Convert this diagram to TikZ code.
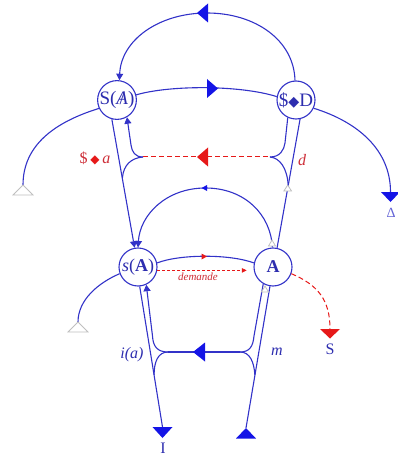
\documentclass[tikz,border=0pt]{standalone}
\usepackage{fontspec}
\usepackage{graphicx}
\setmainfont{Liberation Serif}
\newfontfamily\symf{DejaVu Sans}
\usetikzlibrary{arrows.meta}
\definecolor{lb}{RGB}{50,50,200}
\definecolor{fb}{RGB}{20,20,230}
\definecolor{tb}{RGB}{45,45,175}
\definecolor{rd}{RGB}{230,25,25}
\definecolor{tr}{RGB}{205,45,55}
\newcommand{\dmd}{{\symf\scalebox{0.75}{◆}}}
\newcommand{\barA}{\ooalign{\itshape A\cr\hidewidth\upshape/\hidewidth}}
\begin{document}
\begin{tikzpicture}[x=1pt,y=-1pt,
 nd/.style={circle,draw=lb,line width=1.1pt,fill=white,minimum size=38pt,inner sep=0pt,text=tb,font=\fontsize{18}{18}\selectfont},
 ln/.style={draw=lb,line width=1.1pt},
 tri/.style={fill=fb},
 rtri/.style={fill=rd},
 otri/.style={draw=gray!50,fill=white,line width=0.8pt},
 rdash/.style={draw=rd,line width=1pt,dash pattern=on 5pt off 3pt},
 tip/.style={-{Triangle[width=7pt,length=6.5pt]}},
 lab/.style={font=\fontsize{16}{16}\selectfont\itshape}]
\useasboundingbox (0,0) rectangle (398,457);
% nodes
\node[nd,font=\fontsize{19}{19}\selectfont] (SA) at (117,100) {S(\barA)};
\node[nd,font=\fontsize{19}{19}\selectfont] (SD) at (296,100) {\$\dmd D};
\node[nd] (sA) at (138,267) {\textit{s}(\textbf{A})};
\node[nd] (A) at (273,267) {\textbf{A}};
% coordinates
\coordinate (hL) at (168,352);
\coordinate (hR) at (240,352);
\coordinate (dL) at (143,157);
\coordinate (dR) at (270,157);
\coordinate (Iend) at (162.5,427);
\coordinate (Mend) at (246,428);
\coordinate (TL) at (23,185);
\coordinate (TD) at (390.5,192);
\coordinate (TsL) at (78,322);
\coordinate (TS) at (330,329);
% top arc
\draw[ln,tip] (SD.93) .. controls (294,40) and (255,13) .. (207,13) .. controls (159,13) and (121,40) .. (SA.83);
\fill[tri] (197,13) -- (208,3.5) -- (208,22.5) -- cycle;
% middle arc
\draw[ln] (SA.15) .. controls (170,85) and (240,85) .. (SD.170);
\fill[tri] (218,88.5) -- (207,79) -- (207,98) -- cycle;
% side arcs
\draw[ln] (SA.-155) .. controls (55,122) and (23,145) .. (TL);
\draw[otri] (TL) -- (33,195) -- (13,195) -- cycle;
\draw[ln] (SD.-25) .. controls (358,122) and (390.5,150) .. (TD);
\fill[tri] (381,192) -- (400,192) -- (390.5,202) -- cycle;
\node[text=lb!75,font=\fontsize{14}{14}\selectfont] (Dl) at (391,213) {Δ};
% straight lines upper
\draw[ln,tip] (SA.-105) -- (sA.100);
\draw[ln] (SD.-78) -- (A.78);
\draw[otri] (287.7,185) -- (291.5,191) -- (283.9,191) -- cycle;
% upper brackets
\draw[ln,tip] (dL) .. controls (135,157) and (132,152) .. (131,145) -- (SA.-60);
\draw[ln] (dL) .. controls (131,158) and (123.5,165) .. (122.4,178);
\draw[ln] (dR) .. controls (280,157) and (284,150) .. (285,143) -- (SD.-115);
\draw[ln] (dR) .. controls (280,158) and (287,168) .. (288.2,185);
\draw[rdash] (dL) -- (dR);
\fill[rtri] (197,157) -- (208,147.5) -- (208,166.5) -- cycle;
\node[text=tr,font=\fontsize{16}{16}\selectfont] (lSa) at (95,158) {\$\,{\color{rd}\dmd}\,\textit{a}};
\node[text=tr,lab] (ld) at (302,160) {d};
% inner arc
\draw[ln,tip] (A.92) .. controls (271,215) and (245,188) .. (205.5,188) .. controls (166,188) and (140,215) .. (sA.90);
\fill[tri] (201.5,188) -- (207,185) -- (207,191) -- cycle;
\draw[otri] (272,240) -- (275.5,246) -- (268.5,246) -- cycle;
% sA - A
\draw[ln] (sA.12) .. controls (180,254) and (230,254) .. (A.168);
\fill[rtri] (207,256.5) -- (201.5,253.5) -- (201.5,259.5) -- cycle;
\draw[draw=rd,line width=0.7pt,dash pattern=on 3pt off 2pt,-{Triangle[width=4.5pt,length=5pt]},shorten >=7pt] (sA.-10) -- (A.190);
\node[text=tr,font=\fontsize{11}{11}\selectfont\itshape] (ldem) at (198,277) {demande};
% left arcs lower
\draw[ln] (sA.-160) .. controls (98,283) and (78,300) .. (TsL);
\draw[otri] (TsL) -- (88,332) -- (68,332) -- cycle;
% red dashed to S
\draw[rdash] (A.-20) .. controls (318,285) and (330,300) .. (TS);
\fill[rtri] (320,329) -- (340,329) -- (330,338.5) -- cycle;
\node[text=tb,font=\fontsize{16}{16}\selectfont] (lS) at (330,349) {S};
% lower lines
\draw[ln] (sA.-85) -- (Iend);
\fill[tri] (152.5,427) -- (172.5,427) -- (162.5,438) -- cycle;
\node[text=tb,font=\fontsize{16}{16}\selectfont] (lI) at (163,448) {I};
\draw[ln] (A.-99) -- (Mend);
\fill[tri] (246,428) -- (256,438.5) -- (236,438.5) -- cycle;
\draw[ln,tip] (hL) .. controls (157,352) and (153,346) .. (152.5,336) -- (sA.-65);
\draw[ln] (hL) .. controls (158,352) and (154,362) .. (154.1,375);
\draw[ln] (hR) .. controls (250,352) and (253,346) .. (254,336) -- (A.-120);
\draw[ln] (hR) .. controls (250,352) and (254,362) .. (254.9,375);
\draw[otri] (265,286) -- (268.5,292) -- (261.5,292) -- cycle;
\draw[ln] (hL) -- (hR);
\fill[tri] (193,352) -- (205,342.5) -- (205,361.5) -- cycle;
\node[text=tb,lab] (lia) at (132,355) {i(a)};
\node[text=tb,lab] (lm) at (277,352) {m};
\end{tikzpicture}
\end{document}
